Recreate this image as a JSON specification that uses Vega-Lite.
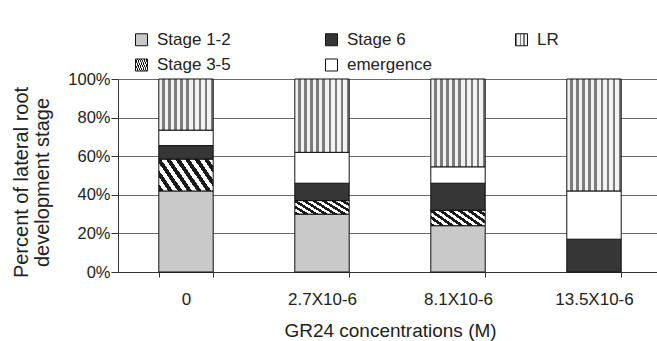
{
  "$schema": "https://vega.github.io/schema/vega-lite/v6.json",
  "width": 544,
  "height": 193,
  "autosize": {"type": "none"},
  "padding": {"left": 118, "top": 79, "right": 0, "bottom": 69},
  "background": "white",
  "config": {
    "font": "Liberation Sans",
    "view": {"stroke": null}
  },
  "data": {
    "values": [
      {"conc": "0", "stage": "Stage 1-2", "pct": 42},
      {"conc": "0", "stage": "Stage 3-5", "pct": 16.5},
      {"conc": "0", "stage": "Stage 6", "pct": 7},
      {"conc": "0", "stage": "emergence", "pct": 8},
      {"conc": "0", "stage": "LR", "pct": 26.5},
      {"conc": "2.7X10-6", "stage": "Stage 1-2", "pct": 30},
      {"conc": "2.7X10-6", "stage": "Stage 3-5", "pct": 7},
      {"conc": "2.7X10-6", "stage": "Stage 6", "pct": 9},
      {"conc": "2.7X10-6", "stage": "emergence", "pct": 16},
      {"conc": "2.7X10-6", "stage": "LR", "pct": 38},
      {"conc": "8.1X10-6", "stage": "Stage 1-2", "pct": 24},
      {"conc": "8.1X10-6", "stage": "Stage 3-5", "pct": 8},
      {"conc": "8.1X10-6", "stage": "Stage 6", "pct": 14},
      {"conc": "8.1X10-6", "stage": "emergence", "pct": 8.5},
      {"conc": "8.1X10-6", "stage": "LR", "pct": 45.5},
      {"conc": "13.5X10-6", "stage": "Stage 6", "pct": 17},
      {"conc": "13.5X10-6", "stage": "emergence", "pct": 25},
      {"conc": "13.5X10-6", "stage": "LR", "pct": 58}
    ]
  },
  "transform": [
    {"calculate": "indexof(['Stage 1-2','Stage 3-5','Stage 6','emergence','LR'], datum.stage)", "as": "ord"}
  ],
  "mark": {"type": "bar", "stroke": "#111111", "strokeWidth": 1},
  "encoding": {
    "x": {
      "field": "conc",
      "type": "nominal",
      "sort": ["0", "2.7X10-6", "8.1X10-6", "13.5X10-6"],
      "scale": {"paddingInner": 0.6, "paddingOuter": 0.3},
      "axis": {
        "title": "GR24 concentrations (M)",
        "labelAngle": 0,
        "tickBand": "extent",
        "tickSize": 5,
        "tickColor": "#333333",
        "domainColor": "#333333",
        "labelFontSize": 17,
        "labelColor": "#222222",
        "labelPadding": 14,
        "titleFontSize": 19,
        "titleFontWeight": "normal",
        "titleColor": "#222222",
        "titlePadding": 14
      }
    },
    "y": {
      "field": "pct",
      "type": "quantitative",
      "stack": "normalize",
      "scale": {"domain": [0, 1]},
      "axis": {
        "title": ["Percent of lateral root", "development stage"],
        "format": ".0%",
        "values": [0, 0.2, 0.4, 0.6, 0.8, 1],
        "grid": true,
        "gridColor": "#6a6a6a",
        "gridWidth": 1,
        "gridOpacity": 1,
        "tickSize": 7,
        "tickColor": "#333333",
        "domainColor": "#333333",
        "labelFontSize": 16.5,
        "labelColor": "#222222",
        "labelPadding": 1,
        "titleFontSize": 20,
        "titleFontWeight": "normal",
        "titleColor": "#222222",
        "titleLineHeight": 21,
        "titlePadding": 15,
        "titleY": 103
      }
    },
    "fill": {
      "field": "stage",
      "type": "nominal",
      "scale": {
        "domain": ["Stage 1-2", "Stage 6", "LR", "Stage 3-5", "emergence"],
        "range": [
          "#c9c9c9",
          "#363636",
          {"expr": "{gradient:'linear',x1:0,y1:0,x2:1,y2:0,stops:[{offset:0,color:'#f2f2f2'},{offset:0.065,color:'#f2f2f2'},{offset:0.065,color:'#7c7c7c'},{offset:0.111,color:'#7c7c7c'},{offset:0.111,color:'#f2f2f2'},{offset:0.176,color:'#f2f2f2'},{offset:0.176,color:'#7c7c7c'},{offset:0.222,color:'#7c7c7c'},{offset:0.222,color:'#f2f2f2'},{offset:0.287,color:'#f2f2f2'},{offset:0.287,color:'#7c7c7c'},{offset:0.333,color:'#7c7c7c'},{offset:0.333,color:'#f2f2f2'},{offset:0.398,color:'#f2f2f2'},{offset:0.398,color:'#7c7c7c'},{offset:0.444,color:'#7c7c7c'},{offset:0.444,color:'#f2f2f2'},{offset:0.509,color:'#f2f2f2'},{offset:0.509,color:'#7c7c7c'},{offset:0.556,color:'#7c7c7c'},{offset:0.556,color:'#f2f2f2'},{offset:0.621,color:'#f2f2f2'},{offset:0.621,color:'#7c7c7c'},{offset:0.667,color:'#7c7c7c'},{offset:0.667,color:'#f2f2f2'},{offset:0.732,color:'#f2f2f2'},{offset:0.732,color:'#7c7c7c'},{offset:0.778,color:'#7c7c7c'},{offset:0.778,color:'#f2f2f2'},{offset:0.843,color:'#f2f2f2'},{offset:0.843,color:'#7c7c7c'},{offset:0.889,color:'#7c7c7c'},{offset:0.889,color:'#f2f2f2'},{offset:0.954,color:'#f2f2f2'},{offset:0.954,color:'#7c7c7c'},{offset:1,color:'#7c7c7c'}]}"},
          {"expr": "{gradient:'linear',x1:0,y1:1,x2:1.207,y2:0.517,stops:[{offset:0,color:'#1a1a1a'},{offset:0.0625,color:'#1a1a1a'},{offset:0.0625,color:'#ffffff'},{offset:0.125,color:'#ffffff'},{offset:0.125,color:'#1a1a1a'},{offset:0.1875,color:'#1a1a1a'},{offset:0.1875,color:'#ffffff'},{offset:0.25,color:'#ffffff'},{offset:0.25,color:'#1a1a1a'},{offset:0.3125,color:'#1a1a1a'},{offset:0.3125,color:'#ffffff'},{offset:0.375,color:'#ffffff'},{offset:0.375,color:'#1a1a1a'},{offset:0.4375,color:'#1a1a1a'},{offset:0.4375,color:'#ffffff'},{offset:0.5,color:'#ffffff'},{offset:0.5,color:'#1a1a1a'},{offset:0.5625,color:'#1a1a1a'},{offset:0.5625,color:'#ffffff'},{offset:0.625,color:'#ffffff'},{offset:0.625,color:'#1a1a1a'},{offset:0.6875,color:'#1a1a1a'},{offset:0.6875,color:'#ffffff'},{offset:0.75,color:'#ffffff'},{offset:0.75,color:'#1a1a1a'},{offset:0.8125,color:'#1a1a1a'},{offset:0.8125,color:'#ffffff'},{offset:0.875,color:'#ffffff'},{offset:0.875,color:'#1a1a1a'},{offset:0.9375,color:'#1a1a1a'},{offset:0.9375,color:'#ffffff'},{offset:1,color:'#ffffff'}]}"},
          "#ffffff"
        ]
      },
      "legend": {
        "orient": "none",
        "legendX": 15,
        "legendY": -48,
        "direction": "horizontal",
        "columns": 3,
        "gridAlign": "all",
        "columnPadding": 80,
        "rowPadding": 7.5,
        "title": null,
        "symbolType": "square",
        "symbolSize": 144,
        "symbolStrokeColor": "#111111",
        "symbolStrokeWidth": 1,
        "symbolOpacity": 1,
        "labelFontSize": 17,
        "labelColor": "#222222",
        "labelOffset": 7
      }
    },
    "order": {"field": "ord", "type": "quantitative"}
  }
}
